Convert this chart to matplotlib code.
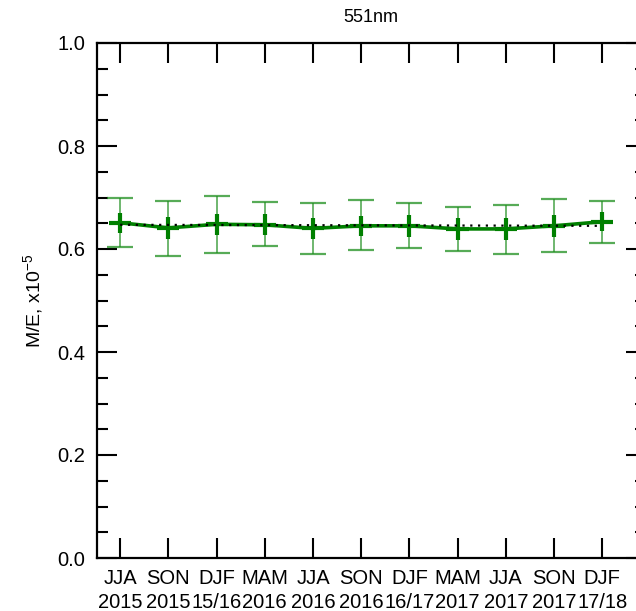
import matplotlib
matplotlib.use("Agg")
import matplotlib.pyplot as plt
import numpy as np
from matplotlib.ticker import MultipleLocator

plt.rcParams['font.family'] = ['Liberation Sans', 'DejaVu Sans']

seasons = ['JJA', 'SON', 'DJF', 'MAM', 'JJA', 'SON', 'DJF', 'MAM', 'JJA', 'SON', 'DJF']
years = ['2015', '2015', '15/16', '2016', '2016', '2016', '16/17', '2017', '2017', '2017', '17/18']

mean = [0.651, 0.641, 0.648, 0.647, 0.640, 0.645, 0.645, 0.639, 0.639, 0.645, 0.653]
upper = [0.700, 0.694, 0.703, 0.692, 0.690, 0.695, 0.690, 0.681, 0.686, 0.698, 0.693]
lower = [0.603, 0.586, 0.592, 0.605, 0.590, 0.598, 0.601, 0.596, 0.591, 0.594, 0.612]
inner = [0.019, 0.021, 0.020, 0.020, 0.021, 0.020, 0.021, 0.021, 0.021, 0.021, 0.019]
trend = [0.647, 0.645]

x = np.arange(len(seasons))
mean = np.array(mean)

W, H = 636, 611
fig = plt.figure(figsize=(W / 100, H / 100), dpi=100)
ax = fig.add_axes([96.6 / W, (H - 558) / H, (646 - 96.6) / W, (558 - 43) / H])

# outer spread
ax.errorbar(x, mean, yerr=[mean - np.array(lower), np.array(upper) - mean],
            fmt='none', ecolor='#1f8f1f', alpha=0.75, elinewidth=1.2,
            capsize=9.5, capthick=1.6, zorder=2)
# inner cross
ax.errorbar(x, mean, yerr=inner, xerr=0.23, fmt='none', ecolor='green',
            elinewidth=3, capsize=0, zorder=3)
ax.plot(x, mean, color='green', lw=2.6, zorder=3)
ax.plot([x[0], x[-1]], trend, linestyle=(0, (1, 2.5)), color='black', lw=1.6, zorder=4)

ax.set_xlim(-0.49, 10.91)
ax.set_ylim(0, 1.0)
ax.set_xticks(x)
ax.set_xticklabels([f'{s}\n{y}' for s, y in zip(seasons, years)], fontsize=14.5,
                   linespacing=1.3)
ax.yaxis.set_major_locator(MultipleLocator(0.2))
ax.yaxis.set_minor_locator(MultipleLocator(0.05))
ax.set_yticklabels([f'{v:.1f}' for v in ax.get_yticks()], fontsize=14.5)

ax.tick_params(axis='both', which='major', direction='in', length=14.5, width=1.5,
               top=True, right=True, pad=8)
ax.tick_params(axis='y', which='minor', direction='in', length=8, width=1.5, right=True)
ax.tick_params(axis='x', which='major', pad=8)
for s in ax.spines.values():
    s.set_linewidth(1.6)

ax.set_ylabel('M/E, x10$^{\\mathregular{-5}}$', fontsize=14, labelpad=8)
ax.set_title('551nm', fontsize=13, pad=15)

fig.savefig('out.png', dpi=100)
